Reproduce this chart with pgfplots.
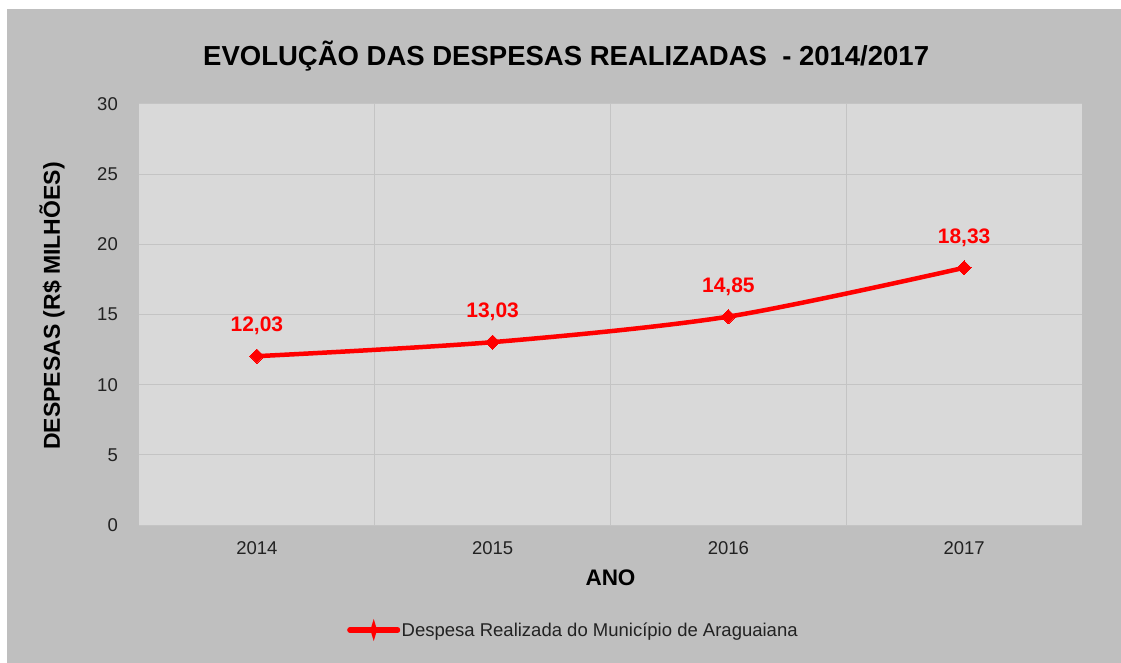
\documentclass[border=0pt]{standalone}
\usepackage{pgfplots}
\pgfplotsset{compat=1.18}
\usepackage{pgfplotstable}
\usepackage{fontspec}
\setmainfont{Liberation Sans}
\definecolor{outergray}{HTML}{BFBFBF}
\definecolor{plotgray}{HTML}{D9D9D9}
\definecolor{gridgray}{HTML}{C4C4C4}
\definecolor{txt}{HTML}{222222}
\definecolor{linered}{HTML}{FF0000}
\pgfplotstableread{
x y label
0 12.03 12,03
1 13.03 13,03
2 14.85 14,85
3 18.33 18,33
}\datatable
\begin{document}
\begin{tikzpicture}
\fill[white] (0bp,0bp) rectangle (1121bp,663bp);
\fill[outergray] (7bp,0bp) rectangle (1121bp,654bp);
\begin{axis}[
  at={(139bp,138bp)}, anchor=south west,
  width=943bp, height=421bp, scale only axis,
  xmin=-0.5, xmax=3.5, ymin=0, ymax=30,
  axis background/.style={fill=plotgray},
  axis line style={draw=none},
  major tick length=0pt, minor tick length=0pt,
  xtick={0,1,2,3}, xticklabels={2014,2015,2016,2017},
  minor xtick={0.5,1.5,2.5},
  ytick={0,5,...,30},
  ymajorgrids, xminorgrids,
  major grid style={gridgray, line width=1bp},
  minor grid style={gridgray, line width=1bp},
  /pgf/number format/assume math mode=true,
  tick label style={font=\fontsize{18.5bp}{22bp}\selectfont, text=txt},
  yticklabel style={anchor=east, inner sep=0pt, xshift=-21bp},
  xticklabel style={anchor=north, inner sep=0pt, yshift=-16bp},
  title={EVOLUÇÃO DAS DESPESAS REALIZADAS~~- 2014/2017},
  title style={at={(axis description cs:0.453,1)}, anchor=center, yshift=42bp,
    font=\bfseries\fontsize{27.5bp}{33bp}\selectfont},
  ylabel={DESPESAS (R\$ MILHÕES)},
  ylabel style={at={(axis description cs:-0.0923,0.52)}, anchor=center, rotate=0,
    font=\bfseries\fontsize{23bp}{27bp}\selectfont},
  xlabel={ANO},
  xlabel style={at={(axis description cs:0.5,-0.126)}, anchor=center,
    font=\bfseries\fontsize{22.5bp}{27bp}\selectfont},
  clip=false,
  legend style={at={(axis description cs:0.2206,-0.2494)}, anchor=west,
    draw=none, fill=none, inner sep=0pt,
    font=\fontsize{18.5bp}{22bp}\selectfont, text=txt,
    nodes={inner sep=1.5bp}},
  legend image code/.code={
    \draw[linered, line width=5bp, line cap=round] (0bp,0bp) -- (48bp,0bp);
    \fill[linered] (23bp,0bp) -- (24bp,3.3bp) -- (25bp,0bp) -- (24bp,-3.3bp) -- cycle;
  },
]
\addplot[linered, line width=4.5bp, smooth, mark=square*,
  mark size=5bp, mark options={rotate=45, fill=linered, draw=linered, line width=0bp},
  point meta=explicit symbolic,
  nodes near coords,
  every node near coord/.append style={anchor=center, yshift=30bp,
    font=\bfseries\fontsize{21bp}{25bp}\selectfont, text=linered}]
  table[x=x, y=y, meta=label] {\datatable};
\addlegendentry{Despesa Realizada do Município de Araguaiana}
\end{axis}
\end{tikzpicture}
\end{document}
